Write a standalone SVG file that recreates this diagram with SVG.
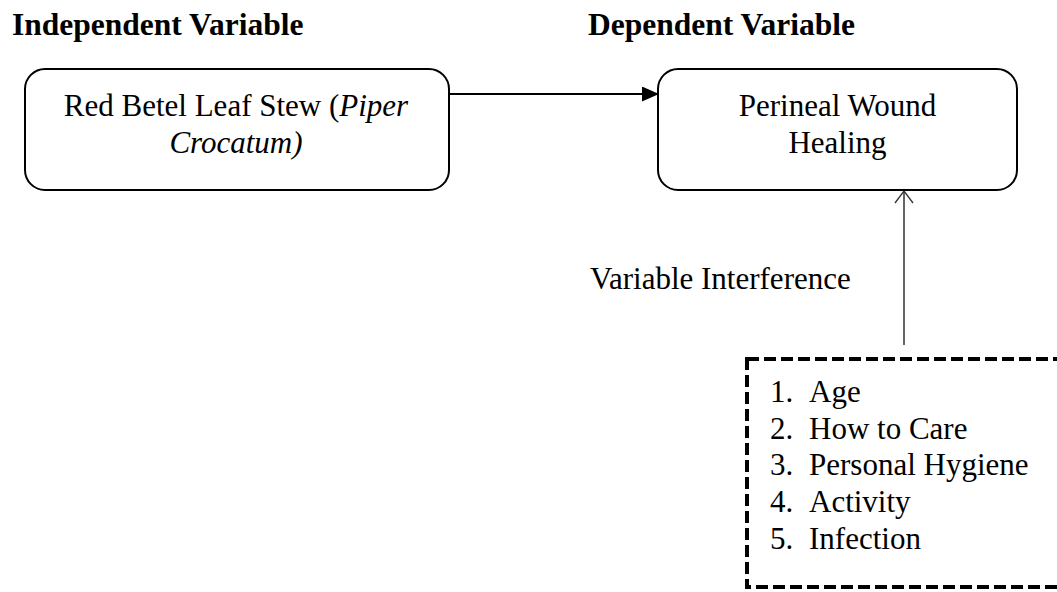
<svg xmlns="http://www.w3.org/2000/svg" width="1057" height="592" viewBox="0 0 1057 592">
<style>
text{font-family:"Liberation Serif","Times New Roman",serif;font-size:31px;fill:#000}
.h{font-weight:bold;font-size:31.5px}
.box{fill:#fff;stroke:#000;stroke-width:2}
.c{text-anchor:middle}
</style>
<defs>
<marker id="fill" markerWidth="17" markerHeight="15" refX="16" refY="7.5" orient="auto" markerUnits="userSpaceOnUse">
<path d="M0,0 L17,7.5 L0,15 Z" fill="#000"/>
</marker>
<marker id="open" markerWidth="20" markerHeight="14" refX="10" refY="1" orient="0" markerUnits="userSpaceOnUse">
<path d="M1,13 L10,1 L19,13" fill="none" stroke="#333" stroke-width="1.3"/>
</marker>
</defs>
<rect width="1057" height="592" fill="#fff"/>
<text class="h" x="12" y="35">Independent Variable</text>
<text class="h" x="588" y="35">Dependent Variable</text>
<g id="iv">
<rect class="box" x="25" y="69" width="424" height="121" rx="20"/>
<text class="c" x="236" y="116">Red Betel Leaf Stew (<tspan font-style="italic">Piper</tspan></text>
<text class="c" x="236" y="153" font-style="italic">Crocatum)</text>
</g>
<g id="dv">
<rect class="box" x="658" y="69" width="359" height="121" rx="20"/>
<text class="c" x="837.5" y="116">Perineal Wound</text>
<text class="c" x="837.5" y="153">Healing</text>
</g>
<g id="interference">
<rect x="747" y="359" width="330" height="228" fill="none" stroke="#000" stroke-width="4" stroke-dasharray="12,5"/>
<text x="770" y="402">1.</text><text x="809" y="402">Age</text>
<text x="770" y="438.7">2.</text><text x="809" y="438.7">How to Care</text>
<text x="770" y="475.4">3.</text><text x="809" y="475.4">Personal Hygiene</text>
<text x="770" y="512.1">4.</text><text x="809" y="512.1">Activity</text>
<text x="770" y="548.8">5.</text><text x="809" y="548.8">Infection</text>
</g>
<text x="590" y="289">Variable Interference</text>
<g id="connectors">
<line x1="449" y1="94" x2="658" y2="94" stroke="#000" stroke-width="2" marker-end="url(#fill)"/>
<line x1="904" y1="345" x2="904" y2="191" stroke="#333" stroke-width="1.5" marker-end="url(#open)"/>
</g>
</svg>
